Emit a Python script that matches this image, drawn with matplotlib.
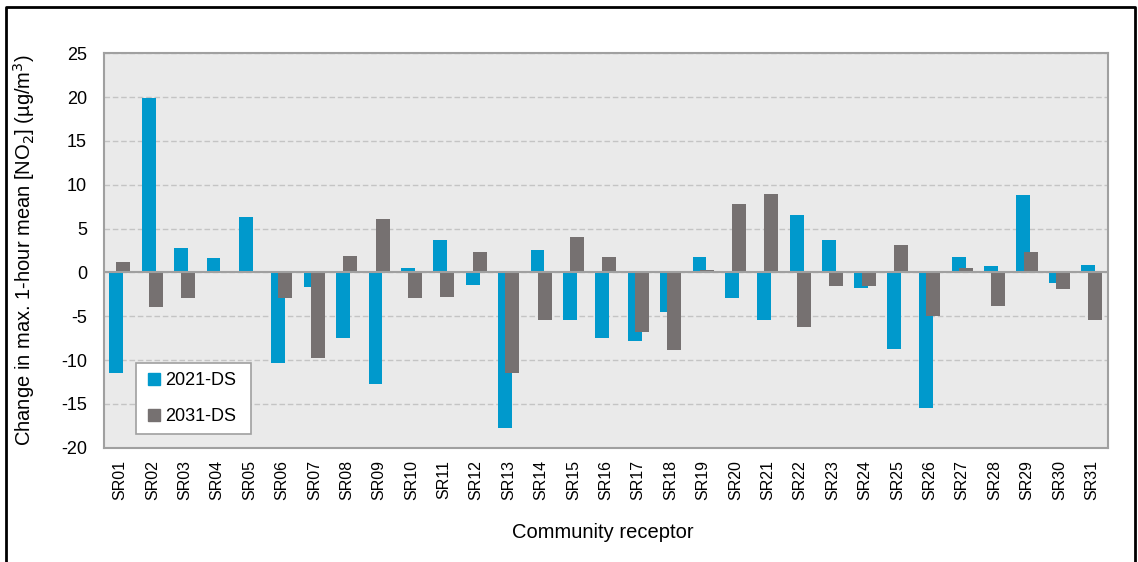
import numpy as np
import matplotlib.pyplot as plt
from matplotlib.lines import Line2D

plt.rcParams['font.family'] = ['Liberation Sans', 'DejaVu Sans']
plt.rcParams['axes.unicode_minus'] = False

receptors = ['SR%02d' % i for i in range(1, 32)]
ds_2021 = [-11.5, 19.9, 2.8, 1.6, 6.3, -10.3, -1.7, -7.5, -12.7, 0.5,
           3.7, -1.4, -17.8, 2.6, -5.4, -7.5, -7.8, -4.5, 1.8, -2.9,
           -5.4, 6.5, 3.7, -1.8, -8.7, -15.5, 1.8, 0.7, 8.8, -1.2, 0.9]
ds_2031 = [1.2, -4.0, -2.9, 0.0, 0.2, -2.9, -9.8, 1.9, 6.1, -2.9,
           -2.8, 2.3, -11.5, -5.4, 4.0, 1.8, -6.8, -8.9, 0.3, 7.8,
           8.9, -6.2, -1.6, -1.6, 3.1, -5.0, 0.5, -3.8, 2.3, -1.9, -5.4]

blue = '#0099CC'
grey = '#767171'

W, H = 1138, 562
fig = plt.figure(figsize=(W / 100, H / 100), dpi=100)
ax = fig.add_axes([103.7 / W, 1 - 447.7 / H, (1108 - 103.7) / W, (447.7 - 53.3) / H])
ax.set_facecolor('#EAEAEA')

x = np.arange(len(receptors))
width = 0.43
ax.bar(x - 0.11, ds_2021, width, color=blue, zorder=3)
ax.bar(x + 0.11, ds_2031, width, color=grey, zorder=4)

ax.set_xlim(-0.5, len(receptors) - 0.5)
ax.set_ylim(-20, 25)
ax.set_yticks(range(-20, 26, 5))
ax.yaxis.grid(True, linestyle=(0, (4, 2)), color='#C4C4C4', linewidth=1, zorder=0)
ax.axhline(0, color='#A0A0A0', linewidth=1.5, zorder=5)

ax.set_xticks(x)
ax.set_xticklabels(receptors, rotation=90, fontsize=11.5)
ax.tick_params(axis='x', length=0, pad=9)
ax.tick_params(axis='y', length=0, pad=12, labelsize=13)
for s in ax.spines.values():
    s.set_color('#A0A0A0')
    s.set_linewidth(1.5)

ax.set_ylabel('Change in max. 1-hour mean [NO$_2$] (µg/m$^3$)', fontsize=14.5)
ax.yaxis.set_label_coords(-0.066, 0.5)
fig.text(603 / W, 1 - 532 / H, 'Community receptor', fontsize=14.5, ha='center', va='center')

handles = [Line2D([], [], marker='s', linestyle='none', color=blue, markersize=8),
           Line2D([], [], marker='s', linestyle='none', color=grey, markersize=8)]
leg = ax.legend(handles, ['2021-DS', '2031-DS'], loc='lower left',
                bbox_to_anchor=(0.032, 0.035, 115 / 1004.3, 0.2), mode='expand',
                borderaxespad=0, fontsize=13,
                fancybox=False, framealpha=1, edgecolor='#A0A0A0',
                handlelength=1.0, handletextpad=0.1, labelspacing=1.05,
                borderpad=0.5)
leg.get_frame().set_linewidth(1.2)
leg.set_zorder(10)

# outer frame, open at the bottom
fx0, fx1, fy = 5.5 / W, 1135 / W, 1 - 7 / H
fig.add_artist(Line2D([fx0, fx0, fx1, fx1], [0, fy, fy, 0], color='black', linewidth=2))

fig.savefig('out.png', dpi=100)
